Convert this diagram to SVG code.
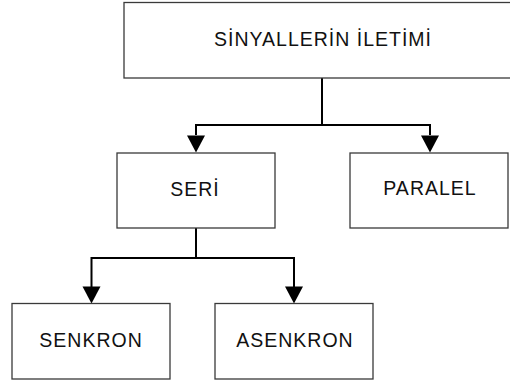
<svg xmlns="http://www.w3.org/2000/svg" width="510" height="385" viewBox="0 0 510 385">
<defs>
<style>
.box{fill:#fff;stroke:#3a3a3a;stroke-width:1.3}
.lbl{font-family:"Liberation Sans",Arial,sans-serif;font-size:19.5px;letter-spacing:1px;fill:#111;text-anchor:middle}
.conn{fill:none;stroke:#000;stroke-width:2}
</style>
</defs>
<rect width="510" height="385" fill="#fff"/>
<g id="connectors">
<path class="conn" d="M322,78 V125 H196 V135"/>
<path class="conn" d="M322,125 H430 V135"/>
<polygon points="187,135.5 205,135.5 196,152.5" fill="#000"/>
<polygon points="421,135.5 439,135.5 430,152.5" fill="#000"/>
<path class="conn" d="M196,228 V258 H91.5 V288"/>
<path class="conn" d="M196,258 H294 V288"/>
<polygon points="82.5,286.5 100.5,286.5 91.5,303.5" fill="#000"/>
<polygon points="285,286.5 303,286.5 294,303.5" fill="#000"/>
</g>
<g id="n-iletim">
<rect class="box" x="124" y="2.5" width="400" height="75.5"/>
<text class="lbl" x="323" y="45.7">SİNYALLERİN İLETİMİ</text>
</g>
<g id="n-seri">
<rect class="box" x="117" y="153" width="158" height="75"/>
<text class="lbl" x="195" y="196">SERİ</text>
</g>
<g id="n-paralel">
<rect class="box" x="350" y="153" width="158" height="75"/>
<text class="lbl" x="430" y="195">PARALEL</text>
</g>
<g id="n-senkron">
<rect class="box" x="12" y="303.5" width="158" height="75.5"/>
<text class="lbl" x="91" y="347">SENKRON</text>
</g>
<g id="n-asenkron">
<rect class="box" x="215" y="303.5" width="158" height="75.5"/>
<text class="lbl" x="295" y="347">ASENKRON</text>
</g>
</svg>
